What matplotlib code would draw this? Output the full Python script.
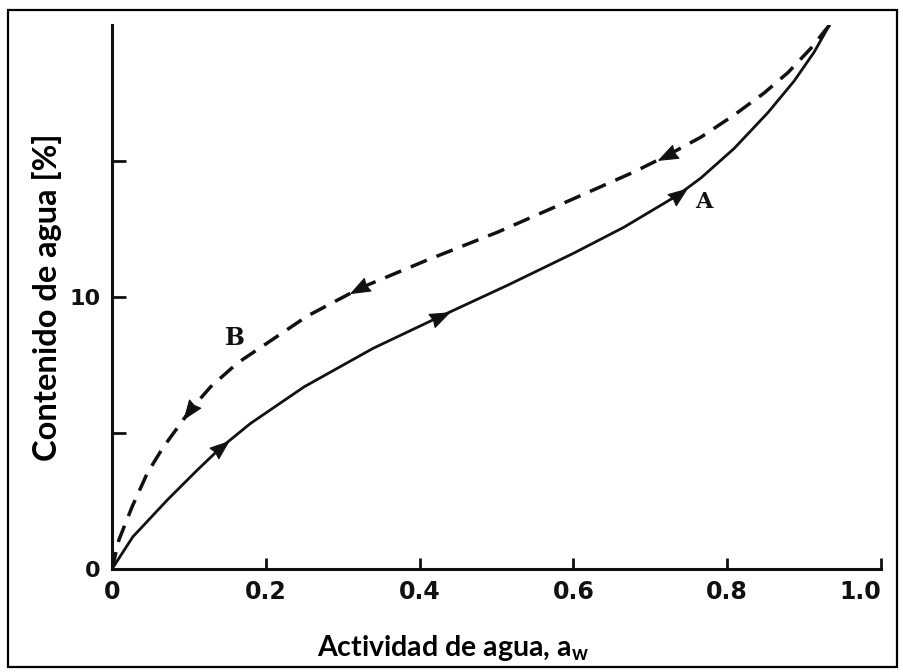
import numpy as np
import matplotlib
matplotlib.use("Agg")
import matplotlib.pyplot as plt
from matplotlib.patches import Rectangle

plt.rcParams['mathtext.fontset'] = 'custom'
plt.rcParams['mathtext.bf'] = 'Lato:bold'
plt.rcParams['mathtext.rm'] = 'Lato'

# Adsorption isotherm (solid, curve A)
aw_ads = [0.0, 0.027, 0.072, 0.111, 0.141, 0.180, 0.250, 0.340, 0.425, 0.515,
          0.601, 0.666, 0.736, 0.766, 0.809, 0.853, 0.887, 0.913, 0.933]
w_ads = [0.0, 1.18, 2.54, 3.64, 4.45, 5.35, 6.70, 8.12, 9.26, 10.44,
         11.62, 12.57, 13.75, 14.38, 15.46, 16.78, 17.94, 19.0, 20.0]

# Desorption isotherm (dashed, curve B)
aw_des = [0.0, 0.009, 0.026, 0.046, 0.066, 0.102, 0.128, 0.163, 0.202, 0.254,
          0.323, 0.410, 0.502, 0.588, 0.679, 0.723, 0.766, 0.809, 0.848,
          0.879, 0.909, 0.933]
w_des = [0.0, 1.07, 2.28, 3.53, 4.45, 5.85, 6.69, 7.57, 8.31, 9.30,
         10.33, 11.36, 12.39, 13.46, 14.60, 15.22, 15.88, 16.69, 17.50,
         18.25, 19.15, 20.0]

# indices of the points that carry direction arrows
ads_arrows = [4, 8, 12]
des_arrows = [5, 10, 15]

x_ticks = [0.0, 0.2, 0.4, 0.6, 0.8, 1.0]
x_ticklabels = ["0", "0.2", "0.4", "0.6", "0.8", "1.0"]
y_ticks = [0, 5, 10, 15]
y_ticklabels = ["0", "", "10", ""]

W, H = 904, 672
fig = plt.figure(figsize=(W / 100, H / 100), dpi=100)
ax = fig.add_axes([112 / W, 1 - 569 / H, (881 - 112) / W, (569 - 25) / H])
ax.set_xlim(0, 1)
ax.set_ylim(0, 20)

ink = "#111111"
ax.plot(aw_ads, w_ads, color=ink, lw=2.0, solid_joinstyle="round")
ax.plot(aw_des, w_des, color=ink, lw=2.5, dashes=(5.0, 3.0))

# arrowhead outline pointing along +x
head = np.array([[1.0, 0.0], [-0.75, 0.66], [-0.6, 0.0], [-0.75, -0.66], [1.0, 0.0]])


def draw_arrows(xs, ys, idxs, step):
    fig.canvas.draw()
    for i in idxs:
        p0 = ax.transData.transform((xs[i], ys[i]))
        p1 = ax.transData.transform((xs[i + step], ys[i + step]))
        t = np.arctan2(p1[1] - p0[1], p1[0] - p0[0])
        rot = np.array([[np.cos(t), -np.sin(t)], [np.sin(t), np.cos(t)]])
        ax.plot([xs[i]], [ys[i]], marker=head @ rot.T, ms=15, mew=0.8,
                color=ink, mec=ink, clip_on=False)


draw_arrows(aw_ads, w_ads, ads_arrows, 1)
draw_arrows(aw_des, w_des, des_arrows, -1)

ax.text(0.160, 8.49, "B", family="DejaVu Serif", weight="bold", fontsize=17,
        ha="center", va="center", color=ink)
ax.text(0.769, 13.5, "A", family="DejaVu Serif", weight="bold", fontsize=16,
        ha="center", va="center", color=ink)

for side in ("top", "right"):
    ax.spines[side].set_visible(False)
for side in ("left", "bottom"):
    ax.spines[side].set_linewidth(2.2)
    ax.spines[side].set_color(ink)

ax.set_xticks(x_ticks)
ax.set_xticklabels(x_ticklabels)
ax.set_yticks(y_ticks)
ax.set_yticklabels(y_ticklabels)
ax.tick_params(axis="x", direction="in", length=8, width=2, color=ink, pad=8)
ax.tick_params(axis="y", direction="in", length=10, width=2, color=ink, pad=8)
for lab in ax.get_xticklabels() + ax.get_yticklabels():
    lab.set_family("DejaVu Sans")
    lab.set_weight("bold")
    lab.set_fontsize(17)
    lab.set_color(ink)
for lab in ax.get_yticklabels():
    lab.set_fontsize(16)
ax.get_xticklabels()[-1].set_ha("right")

fig.text(47 / W, 1 - 297 / H, "Contenido de agua [%]", rotation=90,
         family="Lato", weight="bold", fontsize=23.5, ha="center", va="center")
fig.text(453 / W, 1 - 648 / H, r"Actividad de agua, a$_\mathbf{w}$",
         family="Lato", weight="bold", fontsize=20.5, ha="center", va="center")

fig.patches.append(Rectangle((8 / W, 1 - 667 / H), (897 - 8) / W, (667 - 10) / H,
                             transform=fig.transFigure, fill=False,
                             lw=1.6, ec="black"))

fig.savefig("out.png", dpi=100)
